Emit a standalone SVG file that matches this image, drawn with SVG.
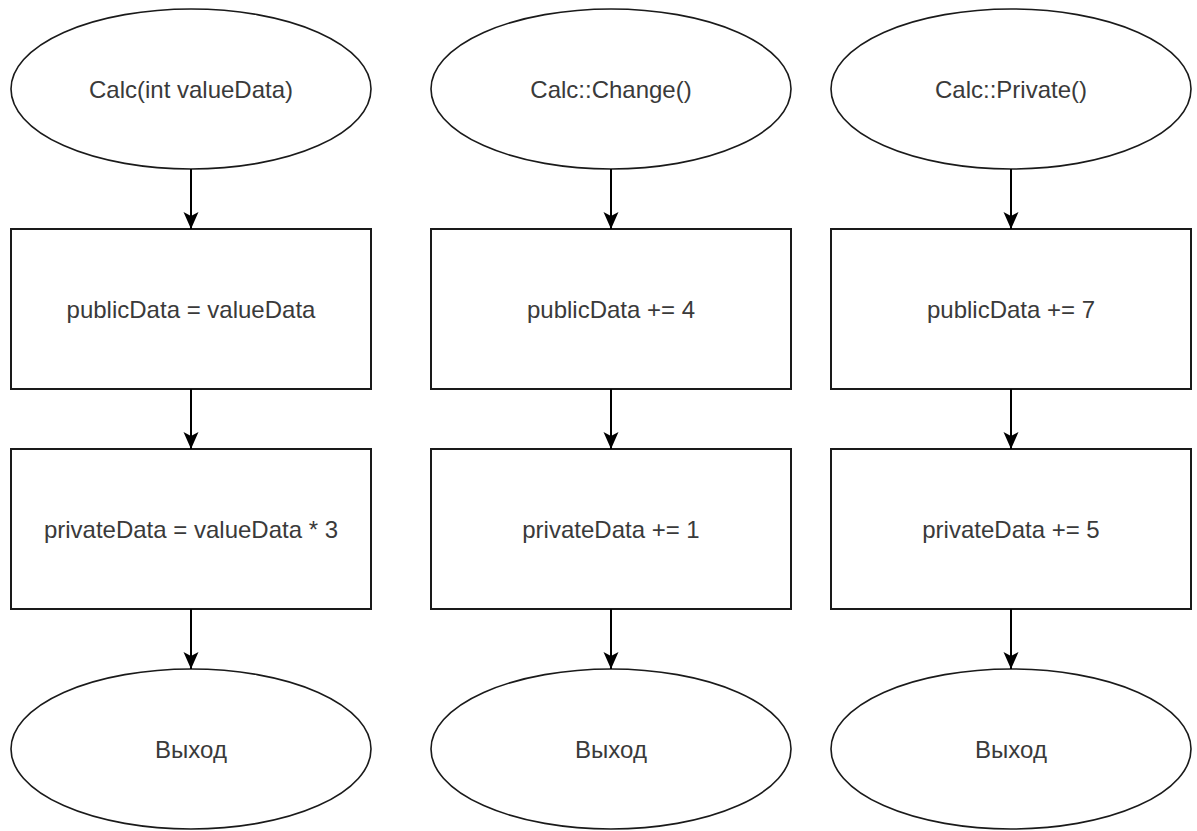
<svg xmlns="http://www.w3.org/2000/svg" width="1197" height="831" viewBox="0 0 1197 831">
  <defs>
    <style>
      .term { fill: #ffffff; stroke: #1a1a1a; stroke-width: 1.6; }
      .step { fill: #ffffff; stroke: #1a1a1a; stroke-width: 2; }
      .label { font-family: "Liberation Sans", Arial, Helvetica, sans-serif; font-size: 24px; fill: #3a3a3a; text-anchor: middle; }
      .flow { stroke: #000000; stroke-width: 2; fill: none; marker-end: url(#arrow); }
    </style>
    <marker id="arrow" markerUnits="userSpaceOnUse" markerWidth="17" markerHeight="16" viewBox="0 0 17 16" refX="17" refY="8" orient="auto">
      <path d="M0,0.5 L17,8 L0,15.5 L4,8 Z" fill="#000000"/>
    </marker>
  </defs>
  <rect width="1197" height="831" fill="#ffffff"/>

  <!-- Column 1: constructor -->
  <g id="calc-ctor">
    <ellipse class="term" cx="191" cy="89" rx="180" ry="80"/>
    <text class="label" x="191" y="97.5">Calc(int valueData)</text>
  </g>
  <g id="ctor-public">
    <rect class="step" x="11" y="229" width="360" height="160"/>
    <text class="label" x="191" y="317.5">publicData = valueData</text>
  </g>
  <g id="ctor-private">
    <rect class="step" x="11" y="449" width="360" height="160"/>
    <text class="label" x="191" y="537.5">privateData = valueData * 3</text>
  </g>
  <g id="ctor-exit">
    <ellipse class="term" cx="191" cy="749" rx="180" ry="80"/>
    <text class="label" x="191" y="757.5">Выход</text>
  </g>

  <!-- Column 2: Change() -->
  <g id="calc-change">
    <ellipse class="term" cx="611" cy="89" rx="180" ry="80"/>
    <text class="label" x="611" y="97.5">Calc::Change()</text>
  </g>
  <g id="change-public">
    <rect class="step" x="431" y="229" width="360" height="160"/>
    <text class="label" x="611" y="317.5">publicData += 4</text>
  </g>
  <g id="change-private">
    <rect class="step" x="431" y="449" width="360" height="160"/>
    <text class="label" x="611" y="537.5">privateData += 1</text>
  </g>
  <g id="change-exit">
    <ellipse class="term" cx="611" cy="749" rx="180" ry="80"/>
    <text class="label" x="611" y="757.5">Выход</text>
  </g>

  <!-- Column 3: Private() -->
  <g id="calc-private">
    <ellipse class="term" cx="1011" cy="89" rx="180" ry="80"/>
    <text class="label" x="1011" y="97.5">Calc::Private()</text>
  </g>
  <g id="private-public">
    <rect class="step" x="831" y="229" width="360" height="160"/>
    <text class="label" x="1011" y="317.5">publicData += 7</text>
  </g>
  <g id="private-private">
    <rect class="step" x="831" y="449" width="360" height="160"/>
    <text class="label" x="1011" y="537.5">privateData += 5</text>
  </g>
  <g id="private-exit">
    <ellipse class="term" cx="1011" cy="749" rx="180" ry="80"/>
    <text class="label" x="1011" y="757.5">Выход</text>
  </g>

  <!-- Connectors -->
  <g id="connectors">
    <line class="flow" x1="191" y1="169" x2="191" y2="229"/>
    <line class="flow" x1="191" y1="389" x2="191" y2="449"/>
    <line class="flow" x1="191" y1="609" x2="191" y2="669"/>
    <line class="flow" x1="611" y1="169" x2="611" y2="229"/>
    <line class="flow" x1="611" y1="389" x2="611" y2="449"/>
    <line class="flow" x1="611" y1="609" x2="611" y2="669"/>
    <line class="flow" x1="1011" y1="169" x2="1011" y2="229"/>
    <line class="flow" x1="1011" y1="389" x2="1011" y2="449"/>
    <line class="flow" x1="1011" y1="609" x2="1011" y2="669"/>
  </g>
</svg>
